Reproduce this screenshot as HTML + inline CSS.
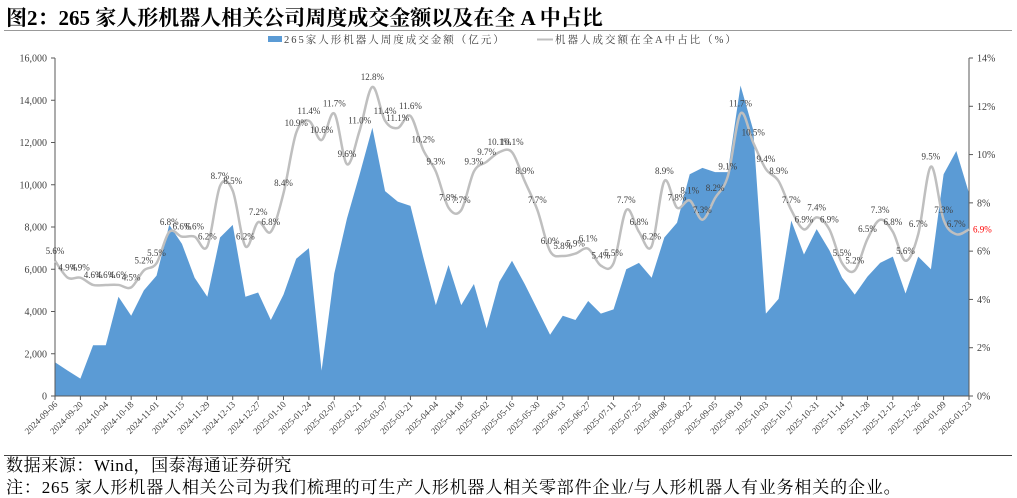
<!DOCTYPE html>
<html><head><meta charset="utf-8">
<style>
html,body{margin:0;padding:0;background:#fff;}
body{width:1017px;height:497px;overflow:hidden;position:relative;font-family:"Liberation Serif","Noto Serif CJK SC",serif;}
.title{position:absolute;left:6px;top:2px;font-size:21px;font-weight:bold;color:#000;white-space:nowrap;}
.rule1{position:absolute;left:4px;top:30px;width:1008px;height:1px;background:#999;}
.rule2{position:absolute;left:4px;top:455px;width:1008px;height:1px;background:#444;}
.src{position:absolute;left:6px;top:451px;font-size:17px;letter-spacing:0.6px;color:#000;white-space:nowrap;}
.note{position:absolute;left:6px;top:473px;font-size:17px;letter-spacing:0.85px;color:#000;white-space:nowrap;}
svg{position:absolute;left:0;top:0;}
</style></head>
<body>
<div class="title">图2：265 家人形机器人相关公司周度成交金额以及在全 A 中占比</div>
<div class="rule1"></div>
<svg id="chart" width="1017" height="497"></svg>
<div class="rule2"></div>
<div class="src">数据来源：Wind，国泰海通证券研究</div>
<div class="note">注：265 家人形机器人相关公司为我们梳理的可生产人形机器人相关零部件企业/与人形机器人有业务相关的企业。</div>
<script>
const amounts=[1600,1200,820,2400,2400,4700,3800,5000,5700,8100,7200,5600,4700,7500,8100,4700,4900,3600,4800,6500,7000,1200,5800,8400,10500,12700,9700,9200,9000,6600,4300,6200,4300,5300,3200,5400,6400,5300,4100,2900,3800,3600,4500,3900,4100,6000,6300,5600,7500,8200,10500,10800,10600,10600,14700,12600,3900,4600,8300,6700,7900,6900,5600,4800,5650,6300,6600,4850,6600,6000,10500,11600,9600];
const shares=[5.6,4.9,4.9,4.6,4.6,4.6,4.5,5.2,5.5,6.8,6.6,6.6,6.2,8.7,8.5,6.2,7.2,6.8,8.4,10.9,11.4,10.6,11.7,9.6,11.0,12.8,11.4,11.1,11.6,10.2,9.3,7.8,7.7,9.3,9.7,10.1,10.1,8.9,7.7,6.0,5.8,5.9,6.1,5.4,5.5,7.7,6.8,6.2,8.9,7.8,8.1,7.3,8.2,9.1,11.7,10.5,9.4,8.9,7.7,6.9,7.4,6.9,5.5,5.2,6.5,7.3,6.8,5.6,6.7,9.5,7.3,6.7,6.9];
const leftTicks=[0,2000,4000,6000,8000,10000,12000,14000,16000];
const rightTicks=[0,2,4,6,8,10,12,14];
const startDate="2024-09-06";

const svg=document.getElementById('chart');
const NS='http://www.w3.org/2000/svg';
const X0=55,X1=969,Y0=396,Y1=58;
const n=amounts.length;
const xAt=i=>X0+(X1-X0)*i/(n-1);
const yL=v=>Y0-(Y0-Y1)*v/16000;
const yR=v=>Y0-(Y0-Y1)*v/14;
function mk(tag,attrs,parent){const e=document.createElementNS(NS,tag);for(const k in attrs)e.setAttribute(k,attrs[k]);(parent||svg).appendChild(e);return e;}

let d=`M${xAt(0)},${Y0}`;
amounts.forEach((v,i)=>{d+=` L${xAt(i).toFixed(2)},${yL(v).toFixed(2)}`;});
d+=` L${xAt(n-1)},${Y0} Z`;
const area=mk('path',{d:d,fill:'#5b9bd5'});



const axL=mk('line',{x1:X0,y1:Y1,x2:X0,y2:Y0,stroke:'#595959','stroke-width':1});


const axR=mk('line',{x1:X1,y1:Y1,x2:X1,y2:Y0,stroke:'#595959','stroke-width':1});


const axB=mk('line',{x1:X0,y1:Y0,x2:X1,y2:Y0,stroke:'#595959','stroke-width':1});



leftTicks.forEach(v=>{
  const y=yL(v);
  mk('line',{x1:X0-4,y1:y,x2:X0,y2:y,stroke:'#595959'});
  const t=mk('text',{x:X0-8,y:y+3.5,'text-anchor':'end','font-size':10,fill:'#404040'});
  t.textContent=v.toLocaleString('en-US');
  
  
});
rightTicks.forEach(v=>{
  const y=yR(v);
  mk('line',{x1:X1,y1:y,x2:X1+4,y2:y,stroke:'#595959'});
  const t=mk('text',{x:X1+8,y:y+3.5,'font-size':10,fill:'#404040'});
  t.textContent=v+'%';
  
  
});
const sd=new Date(startDate+'T00:00:00Z');
for(let i=0;i<n;i+=2){
  const x=xAt(i);
  mk('line',{x1:x,y1:Y0,x2:x,y2:Y0+4,stroke:'#595959'});
  const dt=new Date(sd.getTime()+i*7*86400000);
  const s=dt.toISOString().slice(0,10);
  const t=mk('text',{x:x+3,y:Y0+9,'text-anchor':'end','font-size':9,fill:'#404040',transform:`rotate(-45 ${x+3} ${Y0+9})`});
  t.textContent=s;
  
  
}

const pts=shares.map((v,i)=>[xAt(i),yR(v)]);
let ld=`M${pts[0][0]},${pts[0][1]}`;
for(let i=0;i<pts.length-1;i++){
  const p0=pts[Math.max(0,i-1)],p1=pts[i],p2=pts[i+1],p3=pts[Math.min(pts.length-1,i+2)];
  const c1=[p1[0]+(p2[0]-p0[0])/6,p1[1]+(p2[1]-p0[1])/6];
  const c2=[p2[0]-(p3[0]-p1[0])/6,p2[1]-(p3[1]-p1[1])/6];
  ld+=` C${c1[0].toFixed(2)},${c1[1].toFixed(2)} ${c2[0].toFixed(2)},${c2[1].toFixed(2)} ${p2[0].toFixed(2)},${p2[1].toFixed(2)}`;
}
const line=mk('path',{d:ld,fill:'none',stroke:'#bfbfbf','stroke-width':2.5});



shares.forEach((v,i)=>{
  const last=i===n-1;
  const t=mk('text',{x:last?xAt(i)+4:xAt(i),y:last?yR(v)+3:yR(v)-7,'text-anchor':last?'start':'middle','font-size':9,fill:last?'#ff0000':'#404040'});
  t.textContent=v.toFixed(1)+'%';
  
  
});

const lg=mk('g',{});


const sw=mk('rect',{x:268,y:36,width:14,height:6,fill:'#5b9bd5'},lg);


const lt1=mk('text',{x:284,y:43,'font-size':10.5,'letter-spacing':2,fill:'#404040'},lg);
lt1.textContent='265家人形机器人周度成交金额（亿元）';


const sw2=mk('line',{x1:537,y1:39.5,x2:553,y2:39.5,stroke:'#bfbfbf','stroke-width':2},lg);


const lt2=mk('text',{x:555,y:43,'font-size':10.5,'letter-spacing':2,fill:'#404040'},lg);
lt2.textContent='机器人成交额在全A中占比（%）';


</script>
</body></html>
